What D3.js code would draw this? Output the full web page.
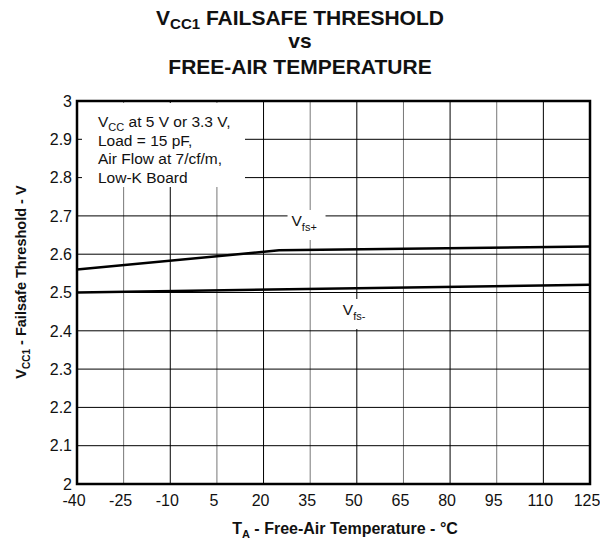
<!DOCTYPE html>
<html><head><meta charset="utf-8">
<script src="https://cdn.jsdelivr.net/npm/d3@7"></script>
<style>body{margin:0;background:#fff}svg{display:block;font-family:"Liberation Sans",Arial,sans-serif}</style>
</head><body><svg id="c" width="600" height="542"></svg>
<script>
const xTicks = [-40,-25,-10,5,20,35,50,65,80,95,110,125];
const yTicks = [2,2.1,2.2,2.3,2.4,2.5,2.6,2.7,2.8,2.9,3];
const tempPlus = [-40, 25, 125];
const vfsPlus = [2.56, 2.61, 2.62];
const tempMinus = [-40, 125];
const vfsMinus = [2.50, 2.52];
const noteLines = ["at 5 V or 3.3 V,", "Load = 15 pF,", "Air Flow at 7/cf/m,", "Low-K Board"];

const svg = d3.select("#c");
const m = {l:77, r:590, t:101, b:484};
const x = d3.scaleLinear().domain([-40,125]).range([m.l, m.r]);
const y = d3.scaleLinear().domain([2,3]).range([m.b, m.t]);

// grid
const g = svg.append("g");
g.selectAll(".vg").data(xTicks.slice(1,-1)).join("line")
  .attr("x1", d=>x(d)).attr("x2", d=>x(d)).attr("y1", m.t).attr("y2", m.b)
  .attr("stroke", (d,i)=> i%2===0 ? "#777" : "#000").attr("stroke-width",1);
g.selectAll(".hg").data(yTicks.slice(1,-1)).join("line")
  .attr("x1", m.l).attr("x2", m.r).attr("y1", d=>y(d)).attr("y2", d=>y(d))
  .attr("stroke", "#000").attr("stroke-width",1);

// note box
svg.append("rect").attr("x", m.l+5).attr("y", m.t+2).attr("width", 163).attr("height", 84).attr("fill","#fff");
const note = svg.append("text").attr("font-size", 15.5).attr("fill","#111");
const t0 = note.append("tspan").attr("x", 98).attr("y", 127);
t0.append("tspan").text("V");
t0.append("tspan").attr("font-size", 11).attr("dy", 4).text("CC");
t0.append("tspan").attr("dy", -4).text(" " + noteLines[0]);
noteLines.slice(1).forEach((s,i)=>{
  note.append("tspan").attr("x", 98).attr("y", 127 + 18.5*(i+1)).text(s);
});

// series labels with white bg
function label(cx, cy, sub){
  svg.append("rect").attr("x", cx-4).attr("y", cy-16).attr("width", 38).attr("height", 30).attr("fill","#fff");
  const t = svg.append("text").attr("x", cx).attr("y", cy).attr("font-size", 15.5).attr("fill","#111");
  t.append("tspan").text("V");
  t.append("tspan").attr("font-size", 11).attr("dy", 5).text(sub);
}
label(x(29), 226, "fs+");
label(x(45.5), 315, "fs-");

// lines
const line = d3.line().x(d=>x(d[0])).y(d=>y(d[1]));
svg.append("path").attr("d", line(d3.zip(tempPlus, vfsPlus))).attr("fill","none").attr("stroke","#000").attr("stroke-width",2.5);
svg.append("path").attr("d", line(d3.zip(tempMinus, vfsMinus))).attr("fill","none").attr("stroke","#000").attr("stroke-width",2.5);

// frame
svg.append("rect").attr("x", m.l).attr("y", m.t).attr("width", m.r-m.l).attr("height", m.b-m.t)
  .attr("fill","none").attr("stroke","#000").attr("stroke-width",2.5);

// axes labels
svg.selectAll(".xt").data(xTicks).join("text")
  .attr("x", d=>x(d)-3).attr("y", 505.5).attr("text-anchor","middle").attr("font-size",16).attr("fill","#111")
  .text(d=>d);
svg.selectAll(".yt").data(yTicks).join("text")
  .attr("x", m.l-5).attr("y", d=>y(d)).attr("dy","0.36em").attr("text-anchor","end").attr("font-size",16).attr("fill","#111")
  .text(d=>d3.format("")(d));

// x title
const xt = svg.append("text").attr("x", 345).attr("y", 534).attr("text-anchor","middle")
  .attr("font-size",16).attr("font-weight","bold").attr("fill","#111");
xt.append("tspan").text("T");
xt.append("tspan").attr("font-size",11).attr("dy",4).text("A");
xt.append("tspan").attr("dy",-4).text(" - Free-Air Temperature - °C");

// y title
const yt = svg.append("text").attr("transform","translate(26,282) rotate(-90)").attr("text-anchor","middle")
  .attr("font-size",14.5).attr("font-weight","bold").attr("fill","#111");
yt.append("tspan").text("V");
yt.append("tspan").attr("font-size",10).attr("dy",4).text("CC1");
yt.append("tspan").attr("dy",-4).text(" - Failsafe Threshold - V");

// title
const title = svg.append("text").attr("text-anchor","middle").attr("font-weight","bold").attr("fill","#111").attr("font-size",21);
const l1 = title.append("tspan").attr("x", 300).attr("y", 25);
l1.append("tspan").text("V");
l1.append("tspan").attr("font-size",15).attr("dy",4).text("CC1");
l1.append("tspan").attr("dy",-4).text(" FAILSAFE THRESHOLD");
title.append("tspan").attr("x", 300).attr("y", 48).text("vs");
title.append("tspan").attr("x", 300).attr("y", 73.5).text("FREE-AIR TEMPERATURE");
</script></body></html>
